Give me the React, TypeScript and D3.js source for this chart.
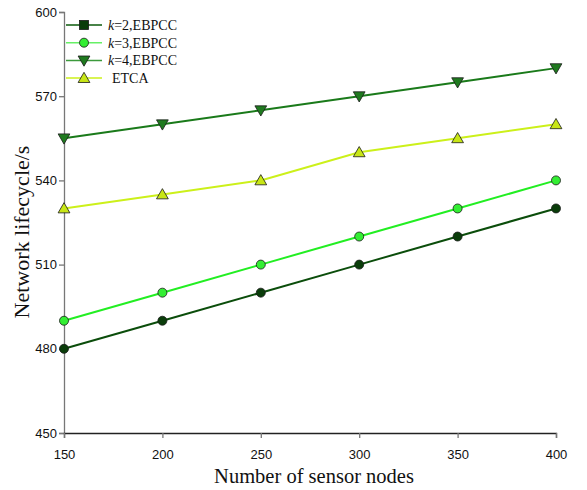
import React, { useRef, useEffect } from 'react';
import * as d3 from 'd3';

const nodes = [150, 200, 250, 300, 350, 400];
const k2Values = [480, 490, 500, 510, 520, 530];
const k3Values = [490, 500, 510, 520, 530, 540];
const k4Values = [555, 560, 565, 570, 575, 580];
const etcaValues = [530, 535, 540, 550, 555, 560];
const yTicks = [450, 480, 510, 540, 570, 600];

const series = [
  { name: 'k=2,EBPCC', k: '2', values: k2Values, line: '#0b4d0b', fill: '#0a3d0a', shape: 'circle', legendShape: 'square', legendLine: '#0b5a0b' },
  { name: 'k=3,EBPCC', k: '3', values: k3Values, line: '#22ee22', fill: '#33ee33', shape: 'circle', legendShape: 'circle', legendLine: '#66f066' },
  { name: 'k=4,EBPCC', k: '4', values: k4Values, line: '#1a7a1a', fill: '#1f7a1f', shape: 'down', legendShape: 'down', legendLine: '#3c9a3c' },
  { name: 'ETCA', k: '', values: etcaValues, line: '#ccf01a', fill: '#c8e616', shape: 'up', legendShape: 'up', legendLine: '#ccf01a' },
];

const W = 587;
const H = 490;

function drawMarker(g: any, shape: string, x: number, y: number, fill: string) {
  if (shape === 'circle') {
    g.append('circle').attr('cx', x).attr('cy', y).attr('r', 4.5)
      .attr('fill', fill).attr('stroke', '#1a1a1a').attr('stroke-width', 0.8);
  } else if (shape === 'square') {
    g.append('rect').attr('x', x - 4.5).attr('y', y - 4.5).attr('width', 9).attr('height', 9)
      .attr('fill', fill).attr('stroke', '#1a1a1a').attr('stroke-width', 0.8);
  } else {
    const sym = d3.symbol().type(d3.symbolTriangle).size(60);
    g.append('path').attr('d', sym()!)
      .attr('transform', `translate(${x},${y + (shape === 'down' ? -1 : 1)}) rotate(${shape === 'down' ? 180 : 0})`)
      .attr('fill', fill).attr('stroke', '#1a1a1a').attr('stroke-width', 0.8);
  }
}

const App: React.FC = () => {
  const svgRef = useRef<SVGSVGElement>(null);

  useEffect(() => {
    const svg = d3.select(svgRef.current);
    svg.selectAll('*').remove();

    const x = d3.scaleLinear().domain([150, 400]).range([64, 556]);
    const y = d3.scaleLinear().domain([450, 600]).range([433, 12]);

    // Axes
    const axisColor = '#777777';
    const yAxis = svg.append('g').attr('transform', 'translate(64,0)')
      .call(d3.axisLeft(y).tickValues(yTicks).tickSize(5).tickPadding(2).tickFormat(d3.format('d')));
    const xAxis = svg.append('g').attr('transform', 'translate(0,433)')
      .call(d3.axisBottom(x).tickValues(nodes).tickSize(5).tickPadding(12).tickFormat(d3.format('d')));
    [yAxis, xAxis].forEach(a => {
      a.select('.domain').attr('stroke', axisColor).attr('stroke-width', 1.3);
      a.selectAll('.tick line').attr('stroke', axisColor).attr('stroke-width', 1.3);
      a.selectAll('text').attr('fill', '#111').style('font-family', '"Liberation Sans", Arial, sans-serif').style('font-size', '13px');
    });
    xAxis.select('.domain').attr('stroke', '#222');

    // Lines
    const line = d3.line<number>().x((_, i) => x(nodes[i])).y(d => y(d));
    series.forEach(s => {
      svg.append('path').datum(s.values).attr('d', line)
        .attr('fill', 'none').attr('stroke', s.line).attr('stroke-width', 2);
    });
    series.forEach(s => {
      const g = svg.append('g');
      s.values.forEach((v, i) => drawMarker(g, s.shape, x(nodes[i]), y(v), s.fill));
    });

    // Legend
    const lg = svg.append('g');
    series.forEach((s, i) => {
      const ly = 25 + i * 17.7;
      lg.append('line').attr('x1', 66).attr('x2', 102).attr('y1', ly).attr('y2', ly)
        .attr('stroke', s.legendLine).attr('stroke-width', 1.5);
      drawMarker(lg, s.legendShape, 84, ly, s.fill);
      const t = lg.append('text').attr('x', s.k ? 108 : 112).attr('y', ly + 5)
        .style('font-family', '"Liberation Serif", "Times New Roman", serif').style('font-size', '14px').attr('fill', '#111');
      if (s.k) {
        t.append('tspan').style('font-style', 'italic').text('k');
        t.append('tspan').text(`=${s.k},EBPCC`);
      } else {
        t.text(s.name);
      }
    });

    // Axis titles
    svg.append('text').attr('x', 314).attr('y', 483).attr('text-anchor', 'middle')
      .style('font-family', '"Liberation Serif", "Times New Roman", serif').style('font-size', '20.5px').attr('fill', '#111')
      .text('Number of sensor nodes');
    svg.append('text').attr('transform', 'translate(29,232) rotate(-90)').attr('text-anchor', 'middle')
      .style('font-family', '"Liberation Serif", "Times New Roman", serif').style('font-size', '22px').attr('fill', '#111')
      .text('Network lifecycle/s');
  }, []);

  return (
    <svg ref={svgRef} width={W} height={H}
      style={{ position: 'absolute', left: 0, top: 0, background: '#fff' }} />
  );
};

export default App;
